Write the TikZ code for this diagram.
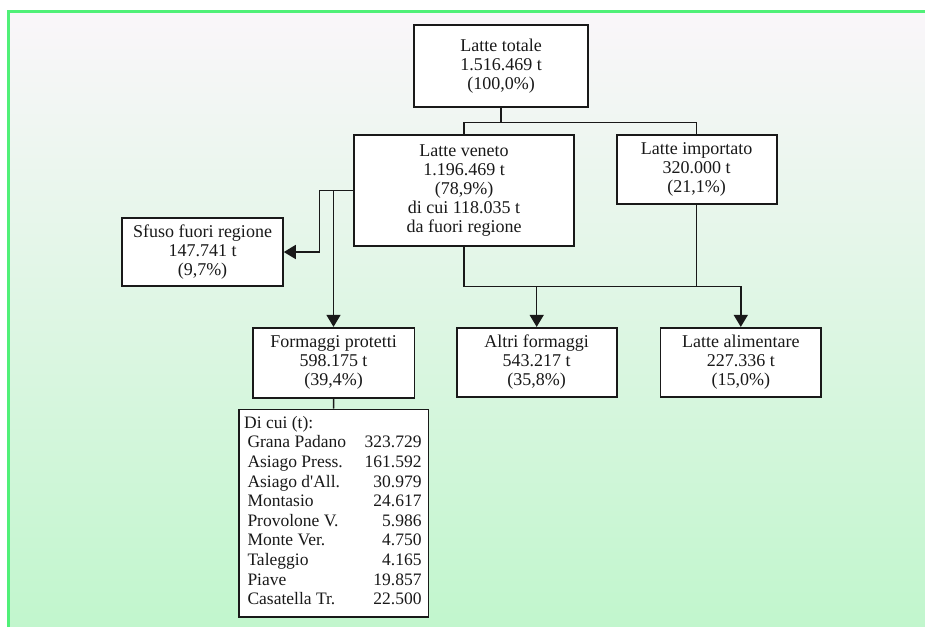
\documentclass[tikz,border=0pt]{standalone}
\usepackage{fontspec}
\setmainfont{Liberation Serif}
\usetikzlibrary{arrows.meta}
\definecolor{frame}{RGB}{80,240,120}
\definecolor{bgtop}{RGB}{250,246,250}
\definecolor{bgbot}{RGB}{192,246,204}
\definecolor{ink}{RGB}{25,25,25}
\tikzset{
  box/.style={draw=ink, fill=white, line width=1.6pt, align=center, inner sep=0pt,
    font=\fontsize{18}{19}\selectfont, text=ink},
  lst/.style={inner sep=0pt, font=\fontsize{17.5}{19}\selectfont, text=ink},
  wire/.style={draw=ink, line width=1.5pt},
  arr/.style={wire, -{Triangle[width=14pt,length=12pt]}}
}
\begin{document}
\begin{tikzpicture}[x=1pt,y=-1pt]
\useasboundingbox (0,0) rectangle (925,626);
\shade[top color=bgtop, bottom color=bgbot] (8,11) rectangle (940,640);
\draw[frame, line width=3pt] (940,11.3) -- (8.2,11.3) -- (8.2,640);

\node[box, minimum width=174pt, minimum height=82pt] (tot) at (501,66)
  {Latte totale\\1.516.469 t\\(100,0\%)};
\node[box, minimum width=220pt, minimum height=111pt] (ven) at (464,190.5)
  {Latte veneto\\1.196.469 t\\(78,9\%)\\di cui 118.035 t\\da fuori regione};
\node[box, minimum width=160pt, minimum height=69pt] (imp) at (696.7,169.5)
  {Latte importato\\320.000 t\\(21,1\%)};
\node[box, minimum width=161pt, minimum height=68pt] (sf) at (202.5,252)
  {Sfuso fuori regione\\147.741 t\\(9,7\%)};
\node[box, minimum width=161.6pt, minimum height=70pt] (fp) at (333.5,362.7)
  {Formaggi protetti\\598.175 t\\(39,4\%)};
\node[box, minimum width=160pt, minimum height=69pt] (al) at (536.7,362.2)
  {Altri formaggi\\543.217 t\\(35,8\%)};
\node[box, minimum width=160.3pt, minimum height=69pt] (la) at (740.8,362.2)
  {Latte alimentare\\227.336 t\\(15,0\%)};
\node[box, minimum width=189.3pt, minimum height=207.4pt] (dc) at (333.7,513) {};

\node[lst, anchor=base west] (dch) at (244,428.3) {Di cui (t):};
\foreach \nm/\vl [count=\i] in {Grana Padano/323.729, Asiago Press./161.592,
  Asiago d\textquotesingle All./30.979, Montasio/24.617, Provolone V./5.986, Monte Ver./4.750,
  Taleggio/4.165, Piave/19.857, Casatella Tr./22.500}{
  \node[lst, anchor=base west] (n\i) at (247.3,{428.3+19.6*\i}) {\nm};
  \node[lst, anchor=base east] (v\i) at (421.7,{428.3+19.6*\i}) {\vl};
}

% connectors
\coordinate (j1) at (501,122.5);
\draw[wire] (tot.south) -- (j1);
\draw[wire] (ven.north) |- (j1) -| (imp.north);

\coordinate (k1) at (319.3,190.5);
\coordinate (k2) at (333.5,190.5);
\draw[arr] (ven.west) -- (k1) |- (sf.east);
\draw[arr] (k2) -- (fp.north);

\coordinate (j2) at (464,286.5);
\draw[wire] (ven.south) -- (j2);
\draw[arr] (j2) -| (al.north);
\draw[arr] (j2) -| (la.north);
\draw[wire] (imp.south) -- (imp.south |- j2);

\draw[wire] (fp.south) -- (dc.north);
\end{tikzpicture}
\end{document}
